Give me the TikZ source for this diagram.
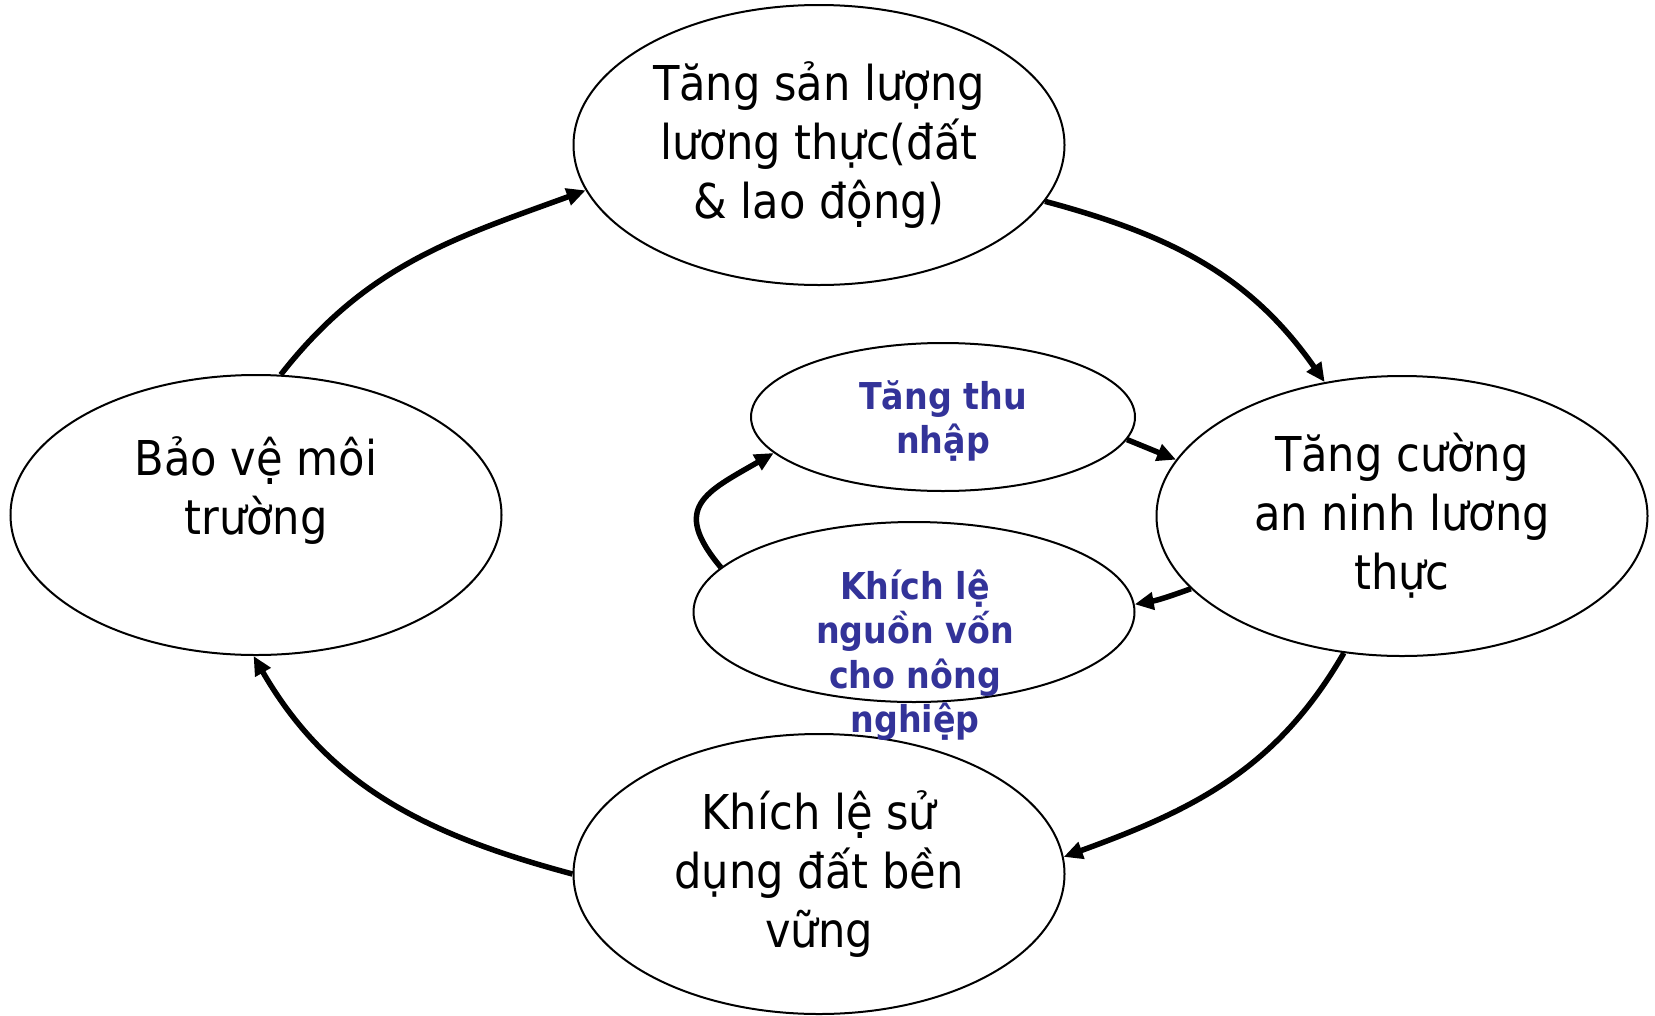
\documentclass[tikz,border=0pt]{standalone}
\usepackage{fontspec}
\setmainfont{DejaVu Sans Condensed}
\usetikzlibrary{shapes.geometric, arrows.meta}
\definecolor{navy}{RGB}{51,51,153}

\begin{document}
\begin{tikzpicture}[x=1pt, y=1pt,
  bigoval/.style={ellipse, draw, line width=2pt, minimum width=491pt, minimum height=280pt, inner sep=0pt, align=center, font=\fontsize{48}{59}\selectfont},
  smalloval/.style={ellipse, draw, line width=2pt, inner sep=0pt},
  bluetext/.style={align=center, text=navy, font=\bfseries\fontsize{37}{44.5}\selectfont},
  flow/.style={line width=5.5pt, -{Triangle[length=19pt, width=17pt]}}]
\useasboundingbox (0,0) rectangle (1655,-1015);
%%%  nodes

% outer cycle
\node [bigoval] (prod) at (819,-145) {Tăng sản lượng\\lương thực(đất\\\& lao động)};
\node [bigoval] (sec) at (1402,-516) {Tăng cường\\an ninh lương\\thực};
\node [bigoval] (land) at (819,-874) {Khích lệ sử\\dụng đất bền\\vững};
\node [bigoval] (env) at (256,-515) {Bảo vệ môi\\trường\\\mbox{}};

% inner loop
\node [smalloval, minimum width=384pt, minimum height=148pt, bluetext, text depth=0pt] (inc) at (943,-417) {Tăng thu\\nhập};
\node [smalloval, minimum width=441pt, minimum height=180pt] (cap) at (914,-612) {};
\node [bluetext] (captxt) at (915,-655) {Khích lệ\\nguồn vốn\\cho nông\\nghiệp};

%%% edges

% outer cycle
\draw (env.80) [out=52, in=200, flow] to (prod.191);
\draw (prod.346) [out=-15, in=125, flow] to (sec.120);
\draw (sec.247) [out=-120, in=20, flow] to (land.4);
\draw (land.180) [out=165, in=-60, flow] to (env.269);

% inner loop
\draw (inc.353) [flow] to (sec.166);
\draw (sec.199) [out=200, in=10, flow] to (cap.2);
\draw (cap.167) [out=130, in=210, looseness=1.6, flow] to (inc.192);
\end{tikzpicture}
\end{document}
